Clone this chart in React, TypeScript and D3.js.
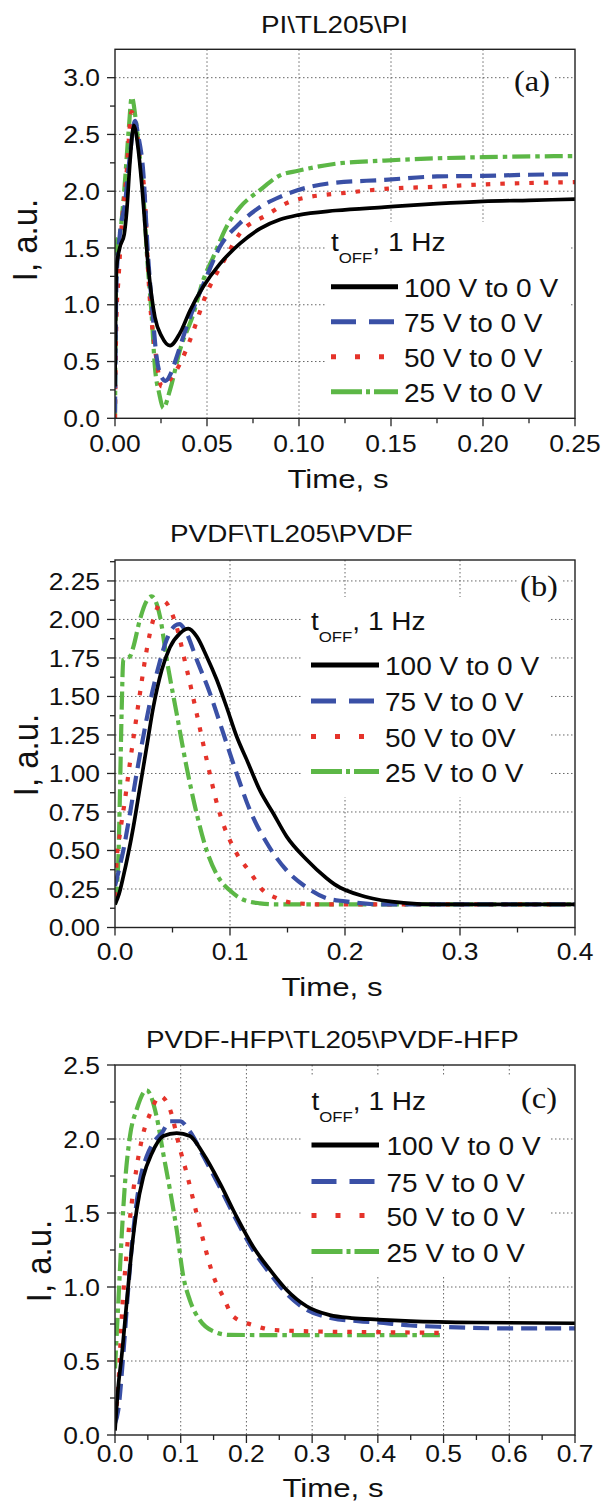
import * as d3 from "d3";

const SANS = "'Liberation Sans', Arial, sans-serif";
const SERIF = "'Liberation Serif', 'Times New Roman', serif";

// legend labels
const labelsA = ["100 V to 0 V", "75 V to 0 V", "50 V to 0 V", "25 V to 0 V"];
const labelsB = ["100 V to 0 V", "75 V to 0 V", "50 V to 0V", "25 V to 0 V"];
const labelsC = ["100 V to 0 V", "75 V to 0 V", "50 V to 0 V", "25 V to 0 V"];

// (a) PI\TL205\PI  [time s, current a.u.]
const a100 = [[0, 0.28], [0.0008, 1.32], [0.0027, 1.51], [0.005, 1.62], [0.0064, 1.83], [0.0082, 2.27], [0.0102, 2.58], [0.0127, 2.36], [0.0145, 2.07], [0.0181, 1.33], [0.0217, 0.89], [0.0254, 0.72], [0.0299, 0.64], [0.0353, 0.75], [0.0408, 0.95], [0.048, 1.16], [0.057, 1.36], [0.068, 1.54], [0.0788, 1.67], [0.0897, 1.75], [0.0995, 1.79], [0.12, 1.83], [0.1465, 1.86], [0.175, 1.89], [0.2, 1.91], [0.225, 1.92], [0.25, 1.93]];
const a75 = [[0, 0.05], [0.0008, 1.2], [0.0027, 1.63], [0.0055, 1.9], [0.008, 2.3], [0.0109, 2.62], [0.0125, 2.5], [0.0154, 2.16], [0.018, 1.42], [0.02, 1.01], [0.0226, 0.54], [0.0254, 0.36], [0.0275, 0.33], [0.0305, 0.4], [0.0335, 0.54], [0.039, 0.81], [0.0444, 1.04], [0.0498, 1.25], [0.057, 1.51], [0.068, 1.72], [0.0788, 1.86], [0.0897, 1.95], [0.0995, 2.01], [0.117, 2.07], [0.1465, 2.1], [0.175, 2.13], [0.2, 2.135], [0.225, 2.145], [0.25, 2.15]];
const a50 = [[0, 0.0], [0.0008, 0.9], [0.002, 1.25], [0.0036, 1.69], [0.006, 2.1], [0.0091, 2.7], [0.0115, 2.55], [0.014, 2.25], [0.0163, 1.92], [0.018, 1.3], [0.0226, 0.51], [0.0254, 0.28], [0.0299, 0.34], [0.0353, 0.48], [0.0408, 0.69], [0.0498, 1.1], [0.0589, 1.38], [0.068, 1.63], [0.0824, 1.79], [0.0973, 1.92], [0.1277, 1.99], [0.1465, 2.02], [0.175, 2.04], [0.2, 2.06], [0.25, 2.08]];
const a25 = [[0, 0.0], [0.0004, 0.9], [0.0009, 1.54], [0.003, 1.66], [0.005, 2.0], [0.0075, 2.55], [0.0091, 2.83], [0.0115, 2.6], [0.0135, 2.3], [0.0154, 1.98], [0.0172, 1.48], [0.02, 0.89], [0.0217, 0.45], [0.024, 0.22], [0.0263, 0.09], [0.0299, 0.25], [0.0353, 0.6], [0.0426, 0.92], [0.048, 1.22], [0.0534, 1.42], [0.0607, 1.69], [0.068, 1.86], [0.0788, 2.01], [0.0897, 2.14], [0.0995, 2.18], [0.119, 2.24], [0.1465, 2.27], [0.175, 2.29], [0.2, 2.3], [0.25, 2.31]];

// (b) PVDF\TL205\PVDF
const b100 = [[0, 0.15], [0.0036, 0.22], [0.0072, 0.33], [0.0159, 0.65], [0.0217, 0.91], [0.0275, 1.17], [0.0333, 1.43], [0.0406, 1.67], [0.0478, 1.82], [0.0565, 1.91], [0.0638, 1.94], [0.071, 1.89], [0.0797, 1.76], [0.0884, 1.61], [0.0971, 1.43], [0.1058, 1.24], [0.1145, 1.09], [0.126, 0.89], [0.1377, 0.74], [0.1493, 0.59], [0.1667, 0.44], [0.184, 0.32], [0.191, 0.28], [0.2177, 0.2], [0.251, 0.16], [0.28, 0.15], [0.4, 0.15]];
const b75 = [[0, 0.27], [0.0036, 0.38], [0.0072, 0.5], [0.013, 0.74], [0.0188, 1.0], [0.0246, 1.24], [0.0304, 1.46], [0.0377, 1.69], [0.045, 1.87], [0.0522, 1.96], [0.056, 1.97], [0.0623, 1.91], [0.071, 1.74], [0.0826, 1.52], [0.0942, 1.26], [0.1058, 1.0], [0.1174, 0.76], [0.1319, 0.55], [0.1493, 0.37], [0.1667, 0.26], [0.184, 0.19], [0.2, 0.17], [0.23, 0.15], [0.4, 0.15]];
const b50 = [[0, 0.2], [0.0015, 0.44], [0.0043, 0.61], [0.0087, 0.83], [0.013, 1.07], [0.0174, 1.3], [0.0217, 1.52], [0.0275, 1.8], [0.0333, 2.0], [0.042, 2.12], [0.052, 1.99], [0.0623, 1.68], [0.071, 1.39], [0.0797, 1.09], [0.0899, 0.77], [0.1058, 0.48], [0.1174, 0.36], [0.1275, 0.25], [0.1406, 0.19], [0.155, 0.16], [0.18, 0.15], [0.4, 0.15]];
const b25 = [[0, 0.15], [0.0029, 0.44], [0.0043, 0.87], [0.0058, 1.41], [0.0072, 1.74], [0.01, 1.75], [0.013, 1.76], [0.0159, 1.82], [0.0217, 2.0], [0.0275, 2.12], [0.0319, 2.15], [0.0391, 2.02], [0.045, 1.74], [0.0536, 1.39], [0.0623, 1.04], [0.071, 0.74], [0.0797, 0.5], [0.0913, 0.31], [0.1, 0.24], [0.1116, 0.18], [0.126, 0.157], [0.14, 0.15], [0.4, 0.15]];

// (c) PVDF-HFP\TL205\PVDF-HFP
const c100 = [[0, 0.03], [0.005, 0.33], [0.0101, 0.53], [0.0177, 0.89], [0.0254, 1.25], [0.033, 1.52], [0.0431, 1.745], [0.0558, 1.9], [0.0735, 2.02], [0.0939, 2.04], [0.114, 2.02], [0.1344, 1.9], [0.1598, 1.7], [0.185, 1.475], [0.2105, 1.27], [0.236, 1.115], [0.2613, 0.98], [0.2917, 0.87], [0.327, 0.81], [0.36, 0.79], [0.4, 0.78], [0.45, 0.77], [0.55, 0.76], [0.7, 0.755]];
const c75 = [[0, 0.08], [0.005, 0.17], [0.0127, 0.55], [0.0203, 1.0], [0.028, 1.385], [0.038, 1.72], [0.048, 1.88], [0.061, 1.99], [0.071, 2.04], [0.084, 2.12], [0.099, 2.12], [0.114, 2.05], [0.135, 1.88], [0.16, 1.67], [0.185, 1.45], [0.21, 1.25], [0.236, 1.09], [0.26, 0.96], [0.29, 0.85], [0.33, 0.79], [0.37, 0.77], [0.4, 0.76], [0.45, 0.74], [0.5, 0.73], [0.6, 0.72], [0.7, 0.72]];
const c50 = [[0, 0.1], [0.005, 0.33], [0.0101, 0.78], [0.0177, 1.23], [0.0254, 1.565], [0.033, 1.81], [0.0431, 2.04], [0.0533, 2.17], [0.0685, 2.29], [0.0837, 2.2], [0.099, 1.93], [0.109, 1.77], [0.119, 1.59], [0.134, 1.32], [0.15, 1.07], [0.165, 0.93], [0.18, 0.8], [0.21, 0.743], [0.241, 0.71], [0.302, 0.7], [0.4, 0.695], [0.5, 0.69]];
const c25 = [[0, 0.45], [0.005, 0.89], [0.0101, 1.34], [0.0152, 1.7], [0.0228, 2.02], [0.033, 2.2], [0.048, 2.33], [0.0634, 2.15], [0.0735, 1.9], [0.0837, 1.655], [0.0939, 1.385], [0.104, 1.07], [0.114, 0.91], [0.129, 0.777], [0.15, 0.7], [0.175, 0.676], [0.3, 0.675], [0.5, 0.675]];

const colors = ["#000000", "#3a50a6", "#e5332a", "#5cb746"];
const plotDash = [null, "16 8", "4.5 10", "18 5 4.5 5"];
const legendDash = [null, "25 13", "5 19", "31 4 4 4"];

const L = 115, R = 575;

const panels = [
  {
    id: "a", title: "PI\\TL205\\PI", titleX: 261, titleY: 33,
    top: 49.3, bottom: 418.3, xMax: 0.25, xStep: 0.05, xFmt: ".2f",
    yMax: 3.25, yStep: 0.5, yFmt: ".1f", yTickMax: 3.0,
    series: [a100, a75, a50, a25], labels: labelsA,
    xTickY: 452, xTitle: [338, 488], yTitle: [37, 240],
    tag: [532, 91], tagBox: [511, 67, 44, 34],
    box: [327, 222, 244, 195], legT: [331, 251], legX: [331, 398, 404], rows: [296.7, 331.7, 366.7, 401.7],
  },
  {
    id: "b", title: "PVDF\\TL205\\PVDF", titleX: 170, titleY: 542,
    top: 560, bottom: 927.5, xMax: 0.4, xStep: 0.1, xFmt: ".1f",
    yMax: 2.386, yStep: 0.25, yFmt: ".2f", yTickMax: 2.25,
    series: [b100, b75, b50, b25], labels: labelsB,
    xTickY: 960, xTitle: [332, 996], yTitle: [38, 755],
    tag: [539, 596], tagBox: [518, 572, 44, 34],
    box: [303, 597, 248, 200], legT: [311, 630], legX: [311, 379, 385], rows: [675, 711, 746.5, 781.5],
  },
  {
    id: "c", title: "PVDF-HFP\\TL205\\PVDF-HFP", titleX: 146, titleY: 1048,
    top: 1065, bottom: 1435, xMax: 0.7, xStep: 0.1, xFmt: ".1f",
    yMax: 2.5, yStep: 0.5, yFmt: ".1f", yTickMax: 2.5,
    series: [c100, c75, c50, c25], labels: labelsC,
    xTickY: 1462, xTitle: [333, 1497], yTitle: [51, 1261],
    tag: [539, 1108], tagBox: null,
    box: [303, 1077, 248, 198], legT: [311.5, 1110], legX: [311.5, 379, 386.5], rows: [1155, 1191.5, 1225.5, 1261.5],
  },
];

function Txt({ x, y, size, sx = 1.1, anchor = "start", family = SANS, rotate = 0, children }: any) {
  const tr = `translate(${x},${y}) scale(${sx},1)` + (rotate ? ` rotate(${rotate})` : "");
  return (
    <text transform={tr} fontSize={size} fontFamily={family} textAnchor={anchor} fill="#111">
      {children}
    </text>
  );
}

function Panel({ p }: any) {
  const x = d3.scaleLinear().domain([0, p.xMax]).range([L, R]);
  const y = d3.scaleLinear().domain([0, p.yMax]).range([p.bottom, p.top]);
  const eps = 1e-9;
  const xMajor = d3.range(0, p.xMax + eps, p.xStep);
  const xMinor = d3.range(p.xStep / 2, p.xMax, p.xStep);
  const yMajor = d3.range(0, p.yTickMax + eps, p.yStep);
  const yMinor = d3.range(p.yStep / 2, p.yMax, p.yStep);
  const fx = d3.format(p.xFmt);
  const fy = d3.format(p.yFmt);
  const line = d3.line<number[]>().x((d) => x(d[0])).y((d) => y(d[1])).curve(d3.curveMonotoneX);
  const clipId = `clip-${p.id}`;
  const gridX = xMajor.filter((v) => v > eps && v < p.xMax - eps);
  const gridY = yMajor.filter((v) => v > eps && y(v) > p.top + 1);

  return (
    <g>
      <defs>
        <clipPath id={clipId}>
          <rect x={L} y={p.top} width={R - L} height={p.bottom - p.top} />
        </clipPath>
      </defs>
      {/* grid */}
      <g stroke="#666" strokeWidth={1} strokeDasharray="1.5 2.5">
        {gridX.map((v, i) => <line key={"gx" + i} x1={x(v)} x2={x(v)} y1={p.top} y2={p.bottom} />)}
        {gridY.map((v, i) => <line key={"gy" + i} x1={L} x2={R} y1={y(v)} y2={y(v)} />)}
      </g>
      {/* legend and tag backgrounds */}
      <rect x={p.box[0]} y={p.box[1]} width={p.box[2]} height={p.box[3]} fill="#fff" />
      {p.tagBox && <rect x={p.tagBox[0]} y={p.tagBox[1]} width={p.tagBox[2]} height={p.tagBox[3]} fill="#fff" />}
      {/* curves, drawn green first so black sits on top */}
      <g clipPath={`url(#${clipId})`} fill="none">
        {p.series.map((s: number[][], i: number) => (
          <path key={i} d={line(s) || ""} stroke={colors[i]} strokeWidth={i === 0 ? 3.7 : 4.2}
            strokeDasharray={plotDash[i] || undefined} strokeLinejoin="round" />
        )).reverse()}
      </g>
      {/* frame */}
      <rect x={L} y={p.top} width={R - L} height={p.bottom - p.top} fill="none" stroke="#222" strokeWidth={1.4} />
      {/* ticks */}
      <g stroke="#222" strokeWidth={1.3}>
        {xMajor.map((v, i) => <line key={"xM" + i} x1={x(v)} x2={x(v)} y1={p.bottom} y2={p.bottom + 8} />)}
        {xMinor.map((v, i) => <line key={"xm" + i} x1={x(v)} x2={x(v)} y1={p.bottom} y2={p.bottom + 5} />)}
        {yMajor.map((v, i) => <line key={"yM" + i} x1={L - 8} x2={L} y1={y(v)} y2={y(v)} />)}
        {yMinor.map((v, i) => <line key={"ym" + i} x1={L - 5} x2={L} y1={y(v)} y2={y(v)} />)}
      </g>
      {xMajor.map((v, i) => (
        <Txt key={"xl" + i} x={x(v)} y={p.xTickY} size={24} anchor="middle">{fx(v)}</Txt>
      ))}
      {yMajor.map((v, i) => (
        <Txt key={"yl" + i} x={100} y={y(v) + 8.6} size={24} anchor="end">{fy(v)}</Txt>
      ))}
      {/* titles */}
      <Txt x={p.titleX} y={p.titleY} size={24} sx={1.16}>{p.title}</Txt>
      <Txt x={p.xTitle[0]} y={p.xTitle[1]} size={26} sx={1.2} anchor="middle">Time, s</Txt>
      <Txt x={p.yTitle[0]} y={p.yTitle[1]} size={33} sx={1.05} anchor="middle" rotate={-90}>I, a.u.</Txt>
      <Txt x={p.tag[0]} y={p.tag[1]} size={29} sx={1.12} anchor="middle" family={SERIF}>({p.id})</Txt>
      {/* legend */}
      <text transform={`translate(${p.legT[0]},${p.legT[1]}) scale(1.12,1)`} fontFamily={SANS} fontSize={25} fill="#111">
        t<tspan dy={12} fontSize={15}>OFF</tspan><tspan dy={-12}>, 1 Hz</tspan>
      </text>
      {p.labels.map((lab: string, i: number) => (
        <g key={"lg" + i}>
          <line x1={p.legX[0]} x2={p.legX[1]} y1={p.rows[i] - 10} y2={p.rows[i] - 10}
            stroke={colors[i]} strokeWidth={5} strokeDasharray={legendDash[i] || undefined} />
          <Txt x={p.legX[2]} y={p.rows[i]} size={25} sx={1.12}>{lab}</Txt>
        </g>
      ))}
    </g>
  );
}

export default function App() {
  return (
    <svg width={602} height={1504} viewBox="0 0 602 1504"
      style={{ position: "absolute", left: 0, top: 0, display: "block", background: "#fff" }}>
      <rect x={0} y={0} width={602} height={1504} fill="#fff" />
      {panels.map((p) => <Panel key={p.id} p={p} />)}
    </svg>
  );
}
